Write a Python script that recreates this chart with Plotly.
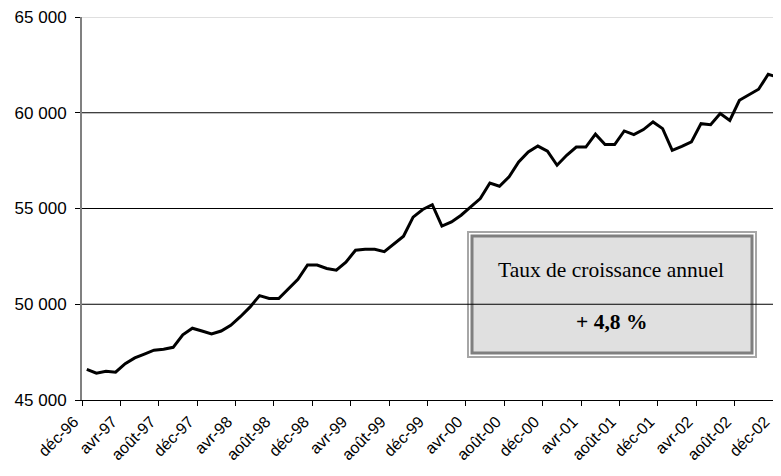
import plotly.graph_objects as go

# monthly values, déc-96 .. déc-02
values = [46600, 46400, 46500, 46450, 46900, 47200, 47400, 47600, 47650, 47750,
          48400, 48750, 48600, 48450, 48600, 48900, 49350, 49850, 50450, 50300,
          50300, 50800, 51300, 52050, 52050, 51870, 51780, 52200, 52820, 52870,
          52870, 52750, 53150, 53550, 54550, 54950, 55200, 54080, 54300, 54650,
          55080, 55520, 56330, 56160, 56650, 57430, 57950, 58260, 58000, 57260,
          57780, 58210, 58210, 58880, 58340, 58340, 59050, 58860, 59120, 59520,
          59170, 58040, 58250, 58480, 59430, 59380, 59960, 59600, 60650, 60950,
          61230, 62010, 61850]

tick_labels = ["déc-96", "avr-97", "août-97", "déc-97", "avr-98", "août-98", "déc-98",
               "avr-99", "août-99", "déc-99", "avr-00", "août-00", "déc-00", "avr-01",
               "août-01", "déc-01", "avr-02", "août-02", "déc-02"]

y_ticks = [45000, 50000, 55000, 60000, 65000]
y_labels = ["45 000", "50 000", "55 000", "60 000", "65 000"]

box_title = "Taux de croissance annuel"
box_value = "+ 4,8 %"

# points sit in the middle of each month slot
x = [i + 0.5 for i in range(len(values))]

# plot area in page pixels (page body adds an 8px margin around the figure)
L, R, T, B = 82, 773, 17, 400


def px(v):
    return (v - L) / (R - L)


def py(v):
    return (B - v) / (B - T)


fig = go.Figure()
fig.add_trace(go.Scatter(x=x, y=values, mode="lines",
                         line=dict(color="black", width=3), hoverinfo="skip"))

serif = "Liberation Serif, Times New Roman"

shapes = [
    # text box: outer and inner frames
    dict(type="rect", xref="paper", yref="paper",
         x0=px(468), x1=px(756), y0=py(357), y1=py(232),
         line=dict(color="#a6a6a6", width=2), fillcolor="white", layer="below"),
    dict(type="rect", xref="paper", yref="paper",
         x0=px(472), x1=px(752), y0=py(353), y1=py(236),
         line=dict(color="#7f7f7f", width=3), fillcolor="#e0e0e0", layer="below"),
]
# horizontal grid lines, drawn over the box like in the original
for v in y_ticks[1:-1]:
    shapes.append(dict(type="line", xref="paper", yref="y", x0=0, x1=1, y0=v, y1=v,
                       line=dict(color="black", width=1), layer="below"))
# light top border
shapes.append(dict(type="line", xref="paper", yref="y", x0=0, x1=1,
                   y0=y_ticks[-1], y1=y_ticks[-1],
                   line=dict(color="#c0c0c0", width=1), layer="below"))

fig.update_layout(
    width=765, height=460,
    margin=dict(l=L - 8, r=0, t=T - 8, b=468 - B, autoexpand=False),
    paper_bgcolor="white", plot_bgcolor="white",
    showlegend=False,
    font=dict(family="Liberation Sans, Arial", color="black"),
    xaxis=dict(range=[0, 72], tickmode="array",
               tickvals=list(range(0, 73, 4)), ticktext=tick_labels,
               tickangle=-45, tickfont=dict(size=16), ticklabeloverflow="allow",
               ticklabelshift=-8,
               ticks="outside", ticklen=5, tickcolor="black",
               showgrid=False, zeroline=False,
               showline=True, linecolor="black", linewidth=1),
    yaxis=dict(range=[45000, 65000], tickmode="array",
               tickvals=y_ticks, ticktext=y_labels, tickfont=dict(size=17),
               ticklabeloverflow="allow", ticklabelstandoff=5,
               ticks="outside", ticklen=5, tickcolor="black",
               showgrid=False, zeroline=False,
               showline=True, linecolor="#808080", linewidth=2),
    shapes=shapes,
    annotations=[
        dict(text=box_title, xref="paper", yref="paper", xanchor="center", yanchor="middle",
             x=px(611), y=py(270), showarrow=False,
             font=dict(family=serif, size=21.5, color="black")),
        dict(text="<b>" + box_value + "</b>", xref="paper", yref="paper",
             xanchor="center", yanchor="middle",
             x=px(611), y=py(322), showarrow=False,
             font=dict(family=serif, size=21.5, color="black")),
    ],
)

fig.write_html("out.html")
